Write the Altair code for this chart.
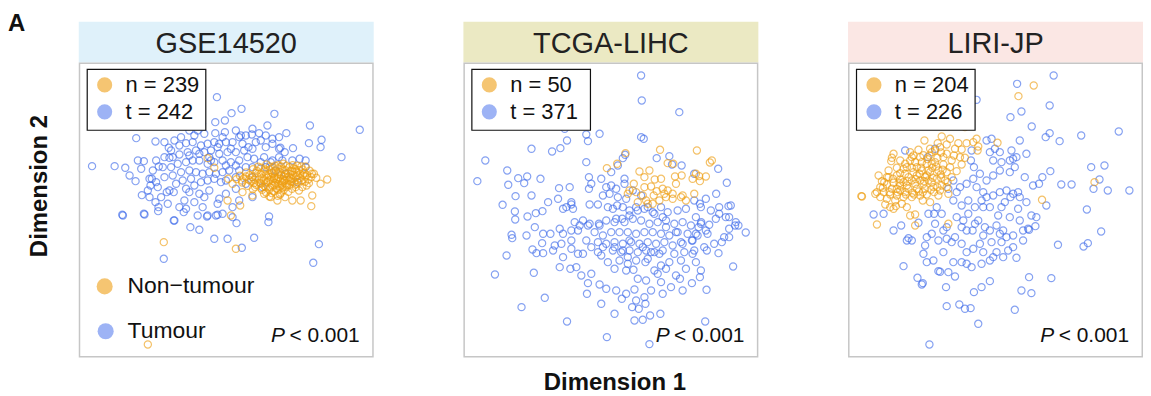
import altair as alt
import pandas as pd

FONT = "Liberation Sans"
ORANGE = "#EE9C0C"
BLUE = "#3C69EA"
ORANGE_KEY = "#F5C572"
BLUE_KEY = "#9DB3F5"

titles = ["GSE14520", "TCGA-LIHC", "LIRI-JP"]
bar_colors = ["#DFF1FA", "#EBE9C3", "#FBE7E4"]
normal_counts = [239, 50, 204]
tumour_counts = [242, 371, 226]
x_domains = [[-3, 885], [0, 888], [3, 891]]
y_domain = [6, 891]

# ---- GSE14520 (Dimension 1, Dimension 2 scores, arbitrary units) ----
p1_tumour = [
    (340,45),(413,110),(487,145),(586,160),(457,158),(437,180),(408,185),(368,190),(290,172),(330,210),
    (355,210),(408,218),(437,215),(485,225),(518,222),(540,218),(560,225),(580,235),(622,218),(693,195),
    (728,238),(690,248),(725,260),(642,263),(604,262),(617,275),(662,295),(170,233),(228,243),(255,245),
    (285,240),(268,262),(320,248),(340,245),(365,255),(385,250),(405,245),(420,250),(440,245),(460,245),
    (480,230),(500,225),(490,250),(508,260),(530,245),(545,240),(560,260),(580,250),(600,230),(600,265),
    (37,317),(105,317),(137,322),(185,325),(193,302),(230,300),(238,318),(270,292),(250,320),(280,290),
    (300,282),(325,275),(350,270),(375,275),(395,270),(420,280),(445,275),(470,275),(495,270),(520,265),
    (505,290),(525,295),(555,290),(580,300),(480,300),(455,305),(430,300),(405,305),(385,310),(360,300),
    (340,300),(320,305),(295,310),(275,320),(220,330),(210,355),(230,365),(255,350),(280,345),(305,335),
    (330,330),(350,335),(370,340),(390,335),(410,340),(430,335),(450,330),(335,355),(310,360),(290,370),
    (270,390),(320,385),(345,375),(365,365),(385,360),(405,355),(425,365),(390,390),(420,415),(360,400),
    (315,420),(345,425),(205,390),(235,380),(210,410),(168,362),(217,355),(213,375),(187,404),(228,425),
    (237,440),(236,452),(128,463),(195,462),(262,395),(283,395),(375,410),(330,395),(320,445),(370,440),
    (385,465),(355,465),(285,480),(410,465),(440,400),(470,385),(415,430),(460,440),(480,420),(520,410),
    (500,370),(520,350),(550,380),(568,485),(570,468),(472,488),(333,500),(360,508),(405,535),(445,535),
    (488,562),(525,532),(720,551),(703,607),(253,595),(383,468),(415,463),(283,480),(313,455),(193,460),
    (130,465),(843,208),(788,290),(640,300),(680,300),(610,300),(575,305),(560,320),(590,330),(620,340),
    (655,365),(680,320),(545,305),(470,350),(440,360),(395,300),(500,320),(480,330),(470,315),(440,315),
    (520,320),(455,265),(415,260),(430,230),(470,210),(565,195),(520,205),(600,290),(150,345),(175,300),
    (255,290),(275,270),(300,255),(305,230),(345,225),(375,220),(390,290),(360,280),(330,285),(265,430),
    (245,410),(300,440),(430,460),(460,470),
]
p1_normal = [
    (385,293),(405,322),(447,355),(445,420),(483,435),(455,465),(253,545),(470,565),(205,852),(700,405),
    (697,437),(665,420),(640,420),(725,370),(745,357),(705,340),(680,318),(460,370),(490,395),(520,405),
    (555,400),(575,410),(595,420),(660,390),(683,375),(712,352),
    (562,312),(588,316),(613,310),(641,314),(667,318),
    (522,326),(546,322),(571,328),(596,324),(619,329),(644,323),(671,327),(692,331),
    (501,336),(529,338),(556,333),(579,337),(603,335),(627,339),(652,334),(676,337),(699,340),
    (482,346),(511,344),(535,348),(561,343),(586,347),(607,344),(631,349),(655,345),(679,348),
    (472,356),(494,353),(526,357),(549,354),(573,358),(596,355),(617,359),(641,356),(664,353),(688,357),
    (489,366),(516,363),(541,367),(566,364),(589,368),(611,365),(636,362),(659,367),
    (506,376),(531,373),(556,377),(579,374),(602,378),(624,375),(649,372),
    (521,386),(546,383),(571,387),(592,384),(614,388),(639,385),
    (561,396),(584,393),(606,397),(628,394),(571,408),(596,406),(618,410),
    (537,319),(582,321),(606,318),(631,320),(655,316),(545,340),(569,342),(617,341),(641,343),(664,341),
    (519,350),(599,351),(624,352),(650,350),(555,360),(581,361),(604,362),(629,360),(546,370),(596,371),
    (620,369),(560,380),(610,381),(585,352),(640,332),(596,340),(575,350),(612,356),
    (533,331),(558,327),(585,333),(610,326),(635,331),(660,329),(684,344),(668,360),(645,366),(623,380),
    (598,388),(573,381),(549,388),(528,380),(510,358),(540,357),(565,352),(590,357),(615,347),(635,354),
    (655,358),(678,364),(697,350),(525,368),(500,348),(578,398),(603,402),(650,380),(670,380),(690,368),
    (562,366),(586,375),(609,373),(633,372),(572,318),(598,314),(622,316),(648,326),(672,344),(488,360),
]

# ---- TCGA-LIHC ----
p2_tumour = [
    (535,45),(537,120),(650,155),(305,205),(370,222),(410,220),(375,242),(312,240),(535,230),(543,235),
    (205,265),(267,273),(292,263),(66,300),(42,362),(132,330),(165,353),(192,348),(232,355),(135,373),
    (183,368),(118,433),(157,407),(155,453),(156,477),(193,468),(218,458),(238,452),(205,405),(255,425),
    (288,383),(320,380),(285,415),(325,432),(310,440),(378,350),(370,305),(378,385),(415,355),(445,375),
    (420,405),(380,432),(405,432),(435,440),(463,435),(485,355),(480,293),(487,283),(465,315),(582,293),
    (620,287),(628,312),(657,315),(695,340),(767,325),(793,367),(761,400),(770,440),(798,437),(800,470),
    (818,495),(828,495),(850,516),(770,460),(730,415),(712,430),(700,470),(716,485),(740,493),(708,500),
    (700,520),(735,520),(688,540),(655,545),(640,515),(610,500),(600,470),(575,460),(555,440),(525,450),
    (500,465),(478,475),(455,485),(430,480),(408,490),(380,490),(350,495),(325,510),(300,520),(262,520),
    (240,520),(215,500),(190,525),(145,523),(147,533),(130,585),(95,642),(212,637),(245,712),(175,740),
    (312,783),(432,830),(560,851),(728,783),(732,688),(812,618),(768,578),(733,570),(778,545),(800,530),
    (690,580),(655,600),(620,605),(595,615),(585,640),(610,625),(640,645),(670,625),(700,605),(712,650),
    (715,630),(688,668),(660,690),(625,680),(600,700),(565,690),(545,710),(520,720),(515,687),(490,700),
    (460,690),(430,685),(410,672),(375,668),(385,640),(355,645),(340,620),(322,625),(300,590),(290,620),
    (240,578),(220,578),(208,567),(237,548),(270,570),(275,555),(325,540),(345,580),(360,580),(385,560),
    (405,575),(435,605),(455,625),(490,630),(512,628),(525,655),(550,660),(575,630),(548,605),(520,600),
    (495,610),(470,600),(420,560),(455,560),(480,570),(500,540),(540,560),(565,575),(590,580),(372,700),
    (415,730),(455,760),(477,715),(508,740),(528,745),(548,730),(515,780),(540,778),(562,765),(593,760),
    (652,655),(595,665),(385,370),(445,335),(430,380),(440,400),(460,385),(485,370),(510,390),(535,405),
    (465,410),(490,415),(450,445),(480,440),(500,450),(520,440),(545,445),(570,455),(595,440),(615,455),
    (645,450),(670,445),(695,420),(715,440),(745,450),(760,475),(790,470),(805,435),(325,425),(300,445),
    (330,445),(335,485),(360,480),(375,495),(345,510),(290,505),(295,550),(325,565),(370,540),(395,515),
    (410,495),(460,475),(485,485),(510,475),(535,480),(560,490),(585,485),(610,480),(635,490),(660,485),
    (685,495),(715,490),(730,510),(705,525),(675,520),(645,515),(620,525),(595,520),(570,515),(545,515),
    (520,520),(495,515),(470,515),(445,515),(420,525),(405,545),(430,550),(455,545),(480,550),(505,545),
    (530,550),(555,545),(580,550),(605,545),(630,555),(660,550),(690,540),(450,570),(475,575),(500,570),
    (525,575),(550,570),(575,575),(600,570),(635,580),(665,575),(695,570),(725,560),(755,550),(785,530),
    (800,505),(820,485),(495,590),(555,595),(415,585),
]
p2_normal = [
    (592,268),(703,270),(488,278),(463,310),(432,323),(530,333),(560,330),(545,350),(576,357),(595,355),
    (632,310),(615,308),(637,348),(657,345),(700,340),(710,347),(730,348),(712,362),(748,300),(742,306),
    (513,370),(500,390),(520,395),(545,380),(565,378),(573,405),(582,392),(600,385),(615,390),(630,400),
    (640,370),(660,405),(690,355),(670,420),(610,410),(590,420),(550,420),(525,425),(555,430),(570,430),
    (495,400),(540,405),(605,400),(630,415),(655,410),(695,400),
]

# ---- LIRI-JP ----
p3_tumour = [
    (622,45),(512,70),(390,118),(610,135),(492,170),(525,153),(556,198),(610,218),(598,230),(640,242),
    (705,225),(818,213),(735,320),(775,315),(760,357),(742,385),(785,390),(850,390),(676,372),(645,372),
    (722,447),(635,553),(712,558),(725,548),(765,513),(615,653),(505,748),(395,790),(248,852),(338,732),
    (355,745),(372,743),(300,737),(525,690),(555,698),(548,650),(430,662),(405,680),(382,695),(298,680),
    (225,672),(228,668),(212,652),(170,617),(275,632),(280,634),(305,635),(325,648),(320,605),(345,605),
    (360,610),(375,620),(405,610),(430,600),(450,575),(485,570),(510,592),(480,530),(465,545),(500,525),
    (530,510),(548,508),(567,497),(520,480),(545,505),(600,435),(578,370),(560,375),(588,350),(612,332),
    (535,350),(515,395),(540,425),(520,410),(492,410),(475,425),(465,440),(455,465),(430,440),(410,440),
    (395,480),(378,510),(360,510),(345,550),(325,530),(300,535),(275,540),(240,530),(235,555),(230,580),
    (240,605),(260,600),(185,533),(180,540),(140,510),(110,460),(80,462),(163,495),(215,487),(265,490),
    (285,460),(245,460),(270,440),(320,420),(345,435),(365,420),(385,440),(405,420),(330,395),(340,380),
    (305,385),(320,360),(360,370),(380,355),(400,340),(420,360),(440,345),(460,330),(440,300),(465,305),
    (490,335),(505,320),(490,300),(500,295),(495,270),(510,290),(520,240),(540,280),(445,265),(430,275),
    (460,275),(420,240),(435,235),(375,270),(373,300),(382,320),(390,380),(410,395),(420,410),(440,405),
    (460,395),(480,390),(500,400),(555,465),(570,470),(450,495),(470,510),(430,510),(410,525),(400,550),
    (380,565),(360,575),(410,575),(440,590),(470,590),(300,500),(255,520),(290,575),(195,540),(175,270),
    (265,265),(243,290),(262,460),(290,510),(315,545),(350,480),(365,460),(385,490),(415,500),(435,545),
    (460,520),(500,560),(530,540),(330,470),(345,500),(490,470),(515,445),
]
p3_normal = [
    (562,75),(516,107),(355,200),(453,247),(587,418),(745,365),(43,407),(90,492),(205,495),(205,462),
    (305,490),(393,270),(390,235),(360,248),(335,248),(310,235),(285,228),(233,240),(273,248),(255,275),
    (290,290),(140,280),(133,302),(175,310),(200,285),(220,290),(240,310),(265,305),(95,345),(125,350),
    (150,345),(175,340),(200,335),(225,330),(250,335),(275,330),(300,335),(170,365),(195,360),(220,360),
    (245,360),(270,355),(295,360),(315,350),(110,395),(135,385),(160,390),(185,385),(210,385),(235,385),
    (260,380),(285,375),(90,395),(45,408),(120,415),(145,420),(170,410),(195,410),(220,405),(140,445),
    (190,465),(250,425),(275,405),(305,400),(160,300),(180,320),(205,305),(222,322),(242,296),(257,322),
    (272,292),(290,312),(300,280),(315,300),(282,342),(240,345),(210,345),(185,350),(160,357),(140,367),
    (120,372),(108,382),(130,402),(150,405),(175,395),(197,397),(216,393),(240,402),(262,395),(100,410),
    (115,432),(147,437),(165,430),(150,322),(125,330),(105,362),(135,292),(190,275),(215,268),(230,284),
    (250,265),(265,270),(280,260),(300,252),(325,265),(345,267),(355,292),(345,312),(330,332),(380,245),
    (395,258),(130,440),(180,440),(228,420),(120,350),(100,380),(85,400),(300,380),(280,390),(190,300),
    (210,320),(255,310),(235,350),(160,375),(180,375),(230,370),(255,365),(205,370),(150,385),
    (170,325),(195,322),(218,340),(245,330),(268,318),(288,328),(310,320),(160,338),(138,355),(158,368),
    (182,362),(207,356),(232,362),(258,352),(283,352),(303,365),(112,365),(128,395),(152,395),(177,402),
    (202,402),(228,395),(252,388),(272,380),(195,290),(225,305),(248,285),(283,276),(322,285),(340,290),
]

tumour_sets = [p1_tumour, p2_tumour, p3_tumour]
normal_sets = [p1_normal, p2_normal, p3_normal]

W = 296     # panel width
BAR = 41    # title bar height
H = 337     # bar + plot frame

ONE = pd.DataFrame({"k": [0]})


def vtext(txt, x, y, size, align="left", baseline="alphabetic", weight="normal",
          style="normal", color="#111111", angle=0):
    return alt.Chart(ONE).mark_text(
        align=align, baseline=baseline, font=FONT, fontSize=size, fontWeight=weight,
        fontStyle=style, color=color, angle=angle
    ).encode(x=alt.value(x), y=alt.value(y), text=alt.value(txt))


def vrect(x, x2, y, y2, **kw):
    return alt.Chart(ONE).mark_rect(**kw).encode(
        x=alt.value(x), x2=alt.value(x2), y=alt.value(y), y2=alt.value(y2))


def vdot(x, y, color, size):
    return alt.Chart(ONE).mark_circle(size=size, color=color, opacity=1).encode(
        x=alt.value(x), y=alt.value(y))


def panel(i):
    rows = [{"dim1": a, "dim2": b, "group": "Tumour"} for a, b in tumour_sets[i]]
    rows += [{"dim1": a, "dim2": b, "group": "Non-tumour"} for a, b in normal_sets[i]]
    df = pd.DataFrame(rows)

    layers = []
    layers.append(vrect(0, W, 0, BAR, fill=bar_colors[i]))
    layers.append(vtext(titles[i], W / 2, BAR / 2 + 1.5, 29, align="center",
                        baseline="middle", color="#222222"))
    layers.append(vrect(0.75, W - 0.75, BAR + 0.75, H - 0.75, fill="white",
                        stroke="#C6C6C6", strokeWidth=1.5))

    pts = alt.Chart(df).mark_point(
        shape="circle", filled=False, size=52, strokeWidth=1.2, opacity=0.62
    ).encode(
        x=alt.X("dim1:Q", scale=alt.Scale(domain=x_domains[i], range=[0, W], nice=False, zero=False), axis=None),
        y=alt.Y("dim2:Q", scale=alt.Scale(domain=y_domain, range=[BAR, H], nice=False, zero=False), axis=None),
        color=alt.Color("group:N", scale=alt.Scale(domain=["Tumour", "Non-tumour"], range=[BLUE, ORANGE]),
                        legend=None),
    )
    layers.append(pts)

    # count box
    layers.append(vrect(8.5, 127.5, BAR + 7, BAR + 68, fill="white", stroke="#111111", strokeWidth=1.2))
    layers.append(vdot(26, BAR + 22.5, ORANGE_KEY, 230))
    layers.append(vdot(26, BAR + 49.5, BLUE_KEY, 230))
    layers.append(vtext(f"n = {normal_counts[i]}", 47, BAR + 29.7, 22))
    layers.append(vtext(f"t = {tumour_counts[i]}", 47, BAR + 56.3, 22))

    # P value
    layers.append(vtext("< 0.001", W - 14, BAR + 280, 21, align="right"))
    layers.append(vtext("P", W - 14 - 75, BAR + 280, 21, align="right", style="italic"))

    if i == 0:
        layers.append(vdot(26, BAR + 224.7, ORANGE_KEY, 260))
        layers.append(vdot(27, BAR + 269.7, BLUE_KEY, 260))
        layers.append(vtext("Non\u2212tumour", 49, BAR + 231.3, 23))
        layers.append(vtext("Tumour", 49, BAR + 276.3, 23))
        layers.append(vtext("Dimension 2", -39, 165, 24, align="center", baseline="middle",
                            weight="bold", angle=270))
        layers.append(vtext("A", -71, 9.5, 24, weight="bold"))
    if i == 1:
        layers.append(vtext("Dimension 1", 152, 370, 24, align="center", weight="bold"))

    return alt.layer(*layers).properties(width=W, height=H)


chart = alt.hconcat(panel(0), panel(1), panel(2), spacing=90).properties(
    padding={"top": 3, "left": 0, "right": 0, "bottom": 0}, background="white"
).configure_view(strokeWidth=0)

chart.save("out.html", embed_options={"renderer": "svg", "actions": False})
